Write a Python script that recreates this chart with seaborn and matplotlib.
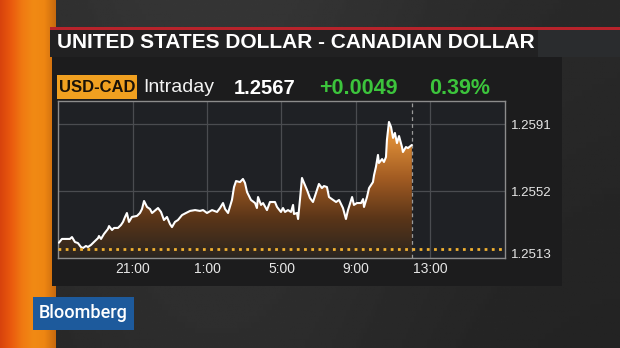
import numpy as np
import pandas as pd
import matplotlib
matplotlib.use("Agg")
import matplotlib.pyplot as plt
from matplotlib.patches import Rectangle, PathPatch
from matplotlib.colors import LinearSegmentedColormap
import matplotlib.transforms as mtransforms
import seaborn as sns

# ---------------- data ----------------
# hours since 17:00 (session open) and USD-CAD price
hours = [0.05, 0.21, 0.64, 0.75, 0.91, 1.07, 1.23, 1.34, 1.50, 1.61, 1.77, 1.93,
         2.15, 2.20, 2.31, 2.47, 2.68, 2.74, 2.90, 3.01, 3.22, 3.38, 3.49, 3.60,
         3.70, 3.81, 3.97, 4.24, 4.40, 4.51, 4.62, 4.78, 4.94, 5.05, 5.37, 5.53,
         5.69, 5.85, 6.01, 6.12, 6.28, 6.44, 6.66, 6.87, 7.09, 7.36, 7.62, 7.79,
         8.00, 8.27, 8.54, 8.70, 8.86, 8.97, 9.13, 9.34, 9.45, 9.56, 9.77, 9.93,
         10.04, 10.15, 10.36, 10.58, 10.68, 10.74, 10.90, 11.01, 11.22, 11.38,
         11.65, 11.76, 11.97, 12.08, 12.19, 12.35, 12.51, 12.62, 12.67, 12.83,
         12.89, 12.99, 13.10, 13.21, 13.37, 13.53, 13.69, 13.85, 14.01, 14.17,
         14.28, 14.44, 14.55, 14.77, 14.93, 15.09, 15.30, 15.46, 15.57, 15.79,
         15.89, 16.05, 16.27, 16.38, 16.43, 16.59, 16.70, 16.91, 16.97, 17.07,
         17.18, 17.23, 17.40, 17.50, 17.61, 17.66, 17.77, 17.88, 17.99, 18.09,
         18.20, 18.31, 18.47, 18.52, 18.68, 18.79, 19.00]
price = [1.25219, 1.25241, 1.25241, 1.25252, 1.25223, 1.25217, 1.25194, 1.25188,
         1.25200, 1.25194, 1.25206, 1.25223, 1.25246, 1.25258, 1.25241, 1.25270,
         1.25299, 1.25316, 1.25293, 1.25305, 1.25305, 1.25322, 1.25340, 1.25369,
         1.25392, 1.25340, 1.25369, 1.25375, 1.25392, 1.25415, 1.25462, 1.25427,
         1.25415, 1.25392, 1.25421, 1.25398, 1.25351, 1.25369, 1.25328, 1.25310,
         1.25340, 1.25351, 1.25380, 1.25392, 1.25404, 1.25409, 1.25404, 1.25409,
         1.25392, 1.25409, 1.25398, 1.25421, 1.25450, 1.25415, 1.25392, 1.25468,
         1.25543, 1.25578, 1.25572, 1.25590, 1.25567, 1.25514, 1.25468, 1.25450,
         1.25421, 1.25485, 1.25439, 1.25450, 1.25409, 1.25456, 1.25456, 1.25427,
         1.25398, 1.25421, 1.25398, 1.25409, 1.25398, 1.25439, 1.25386, 1.25392,
         1.25357, 1.25468, 1.25596, 1.25567, 1.25526, 1.25479, 1.25456, 1.25508,
         1.25561, 1.25537, 1.25549, 1.25543, 1.25485, 1.25468, 1.25456, 1.25468,
         1.25421, 1.25357, 1.25409, 1.25485, 1.25439, 1.25450, 1.25450, 1.25473,
         1.25427, 1.25485, 1.25537, 1.25572, 1.25613, 1.25660, 1.25730, 1.25683,
         1.25706, 1.25689, 1.25718, 1.25817, 1.25922, 1.25893, 1.25829, 1.25858,
         1.25799, 1.25840, 1.25776, 1.25747, 1.25776, 1.25770, 1.25788]
prev_close = 1.2518
now_hour = 19.0
x_ticks = [4, 8, 12, 16, 20]
x_labels = ["21:00", "1:00", "5:00", "9:00", "13:00"]
y_ticks = [1.2513, 1.2552, 1.2591]
y_labels = ["1.2513", "1.2552", "1.2591"]
title = "UNITED STATES DOLLAR - CANADIAN DOLLAR"
ticker = "USD-CAD"
period = "Intraday"
last = "1.2567"
change = "+0.0049"
pct = "0.39%"
brand = "Bloomberg"

df = pd.DataFrame({"hour": hours, "price": price})

# ---------------- figure ----------------
sns.set_theme(style="dark")
plt.rcParams["font.family"] = ["Liberation Sans", "DejaVu Sans"]

W, H = 620, 348
fig = plt.figure(figsize=(W / 100, H / 100), dpi=100)
fig.patch.set_facecolor("#2a2a2a")

def px_rect(x0, y0, x1, y1, color, z=0, **kw):
    r = Rectangle((x0 / W, 1 - y1 / H), (x1 - x0) / W, (y1 - y0) / H,
                  transform=fig.transFigure, facecolor=color, edgecolor="none",
                  zorder=z, **kw)
    fig.add_artist(r)
    return r

# background decoration
bg = fig.add_axes([0, 0, 1, 1], zorder=-10)
bg.axis("off")
gx = np.linspace(0, 1, 300)
bgimg = np.tile(0.16 + 0.05 * np.exp(-((gx - 0.35) / 0.35) ** 2), (2, 1))
vert = np.linspace(1.0, 0.85, 60).reshape(-1, 1)
bg.imshow(bgimg[:1] * vert, extent=[0, 1, 0, 1], cmap="gray", vmin=0, vmax=1,
          aspect="auto")
bg.set_xlim(0, 1)
bg.set_ylim(0, 1)

# orange side strip
ob = fig.add_axes([0, 0, 56 / W, 1], zorder=-5)
ob.axis("off")
ocmap = LinearSegmentedColormap.from_list(
    "o", ["#d8430c", "#ea5a0e", "#f07a12", "#f18a14", "#ee8612", "#c86a0e"])
ob.imshow(np.linspace(0, 1, 100).reshape(1, -1), cmap=ocmap, aspect="auto",
          extent=[0, 1, 0, 1])

# red line and title band
px_rect(50, 27, 620, 30, "#b8232b", z=1)
px_rect(50, 30, 620, 57, "#2a2c2e", z=1)
px_rect(50, 30, 538, 57, "#212122", z=1)
# chart panel
px_rect(52, 57, 562, 286, "#1c1c1d", z=1)

fig.text(57 / W, 1 - 43 / H, title, color="white", fontsize=15,
         fontweight="bold", va="center", ha="left", zorder=5)

# header row
px_rect(57, 75, 137, 99, "#f0a020", z=2)
fig.text(97 / W, 1 - 87.5 / H, ticker, color="#1a1208", fontsize=12,
         fontweight="bold", va="center", ha="center", zorder=5)
fig.text(143 / W, 1 - 87 / H, period, color="#f2f2f2", fontsize=14,
         va="center", ha="left", zorder=5)
fig.text(234 / W, 1 - 88 / H, last, color="white", fontsize=14.5,
         fontweight="bold", va="center", ha="left", zorder=5)
fig.text(319 / W, 1 - 88 / H, change, color="#3cc43c", fontsize=15.5,
         fontweight="bold", va="center", ha="left", zorder=5)
fig.text(429 / W, 1 - 88 / H, pct, color="#3cc43c", fontsize=15.5,
         fontweight="bold", va="center", ha="left", zorder=5)

# Bloomberg badge
px_rect(33, 297, 134, 330, "#1d5a9c", z=3)
fig.text(83.5 / W, 1 - 313.5 / H, brand, color="white", fontsize=13,
         family=["Roboto", "Liberation Sans", "DejaVu Sans"], fontweight="medium",
         va="center", ha="center", zorder=6)

# ---------------- chart axes ----------------
ax_l, ax_r, ax_t, ax_b = 58, 505, 101, 258
ax = fig.add_axes([ax_l / W, 1 - ax_b / H, (ax_r - ax_l) / W, (ax_b - ax_t) / H],
                  zorder=4)
ax.set_facecolor("#1f2125")
ymin, ymax = 1.2513, 1.26044
xmin, xmax = 0, 24

# gradient fill under the line
poly = ax.fill_between(df["hour"], df["price"], ymin, color="none", lw=0)
path = poly.get_paths()[0]
patch = PathPatch(path, transform=ax.transData, facecolor="none",
                  edgecolor="none")
ax.add_patch(patch)
fcmap = LinearSegmentedColormap.from_list(
    "f", ["#2a2520", "#5a3518", "#a05a22", "#d98a35", "#e89a40"])
img = ax.imshow(np.linspace(0, 1, 256).reshape(-1, 1), cmap=fcmap,
                origin="lower", extent=[xmin, xmax, ymin, ymax],
                aspect="auto", zorder=2)
img.set_clip_path(patch)

sns.lineplot(data=df, x="hour", y="price", ax=ax, color="white", lw=1.5,
             zorder=4)

ax.axhline(prev_close, color="#f0b030", lw=2.0, ls=(0, (1, 1.6)), zorder=5)
ax.axvline(now_hour, color="#9a9a9a", lw=0.9, ls=(0, (3, 2.5)), zorder=3)

ax.set_xlim(xmin, xmax)
ax.set_ylim(ymin, ymax)
ax.set_xticks(x_ticks)
ax.set_xticklabels(x_labels)
ax.set_yticks(y_ticks)
ax.set_yticklabels(y_labels)
ax.yaxis.tick_right()
ax.tick_params(axis="both", length=0, colors="#e6e6e6")
ax.tick_params(axis="x", labelsize=10, pad=3)
ax.tick_params(axis="y", labelsize=9.5, pad=4)
for lbl in ax.get_yticklabels():
    if lbl.get_text() == "1.2513":
        lbl.set_transform(lbl.get_transform() +
                          mtransforms.ScaledTranslation(0, 5 / 100,
                                                        fig.dpi_scale_trans))
ax.grid(True, color="#4a4c50", lw=0.9, zorder=1)
ax.set_axisbelow(True)
ax.set_xlabel("")
ax.set_ylabel("")
for s in ax.spines.values():
    s.set_visible(True)
    s.set_color("#8c8c8c")
    s.set_linewidth(1.0)

fig.savefig("out.png", dpi=100, facecolor=fig.get_facecolor())
